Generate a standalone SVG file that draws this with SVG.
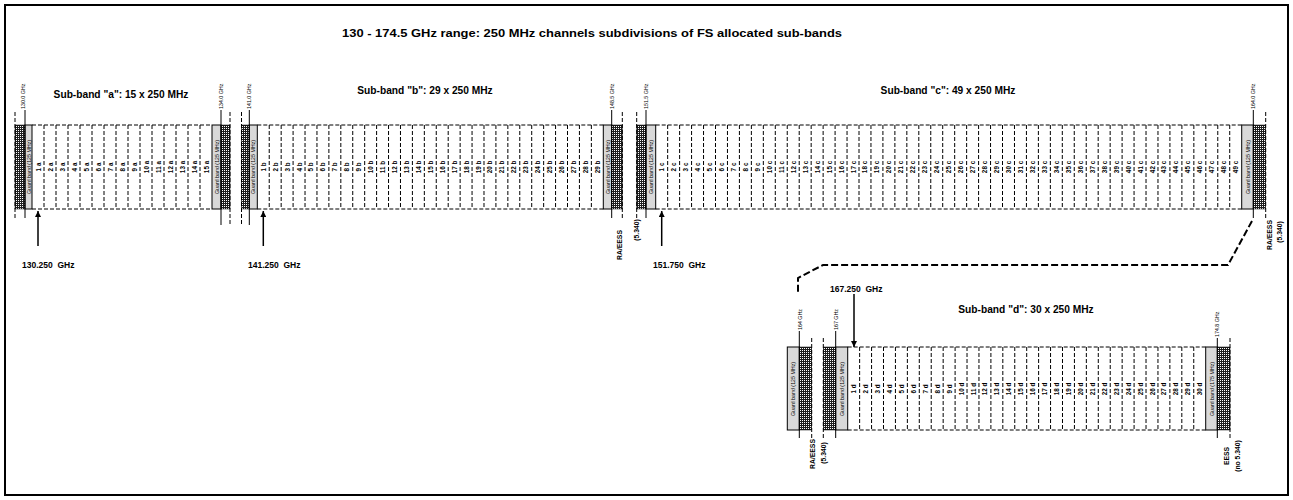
<svg xmlns="http://www.w3.org/2000/svg" width="1293" height="500" viewBox="0 0 1293 500">
<defs>
<pattern id="hp" x="0" y="0" width="2" height="2" patternUnits="userSpaceOnUse"><rect width="2" height="2" fill="#1e1e1e"/><rect x="0" y="0" width="1" height="1" fill="#ffffff"/></pattern>
<marker id="ah" viewBox="0 0 10 10" refX="10" refY="5" markerWidth="4" markerHeight="4" orient="auto"><path d="M0,0L10,5L0,10z" fill="#000"/></marker>
</defs>
<style>
.t{font-family:"Liberation Sans",Arial,sans-serif;fill:#000}
.title{font-size:11px;font-weight:bold;text-anchor:middle}
.sb{font-size:10.2px;font-weight:bold;text-anchor:middle}
.ch{font-size:6.3px;font-weight:bold;text-anchor:middle;dominant-baseline:central}
.gb{font-size:5.3px;text-anchor:middle;dominant-baseline:central}
.fq{font-size:5.3px;dominant-baseline:central}
.nt{font-size:6.8px;font-weight:bold;text-anchor:middle;dominant-baseline:central}
.al{font-size:8.5px;font-weight:bold}
.dash{stroke:#000;stroke-width:1;stroke-dasharray:4 2;fill:none}
.solid{stroke:#000;stroke-width:1;fill:none}
.grey{fill:#d9d9d9;stroke:#000;stroke-width:1}
.hatch{fill:url(#hp);stroke:#000;stroke-width:0.5}
.arr{stroke:#000;stroke-width:1.5;fill:none;marker-end:url(#ah)}
.link{stroke:#000;stroke-width:2;stroke-dasharray:7 3;fill:none}
</style>
<rect x="5" y="5" width="1283" height="490" fill="#fff" stroke="#000" stroke-width="2"/>
<text class="t title" x="592" y="37" textLength="500" lengthAdjust="spacingAndGlyphs">130 - 174.5 GHz range: 250 MHz channels subdivisions of FS allocated sub-bands</text>

<g id="subband-a">
<text class="t sb" x="121" y="98">Sub-band "a": 15 x 250 MHz</text>
<path class="dash" d="M32,125H212M32,209H212"/>
<path class="dash" d="M44,125v84m12,-84v84m12,-84v84m12,-84v84m12,-84v84m12,-84v84m12,-84v84m12,-84v84m12,-84v84m12,-84v84m12,-84v84m12,-84v84m12,-84v84m12,-84v84"/>
<rect class="hatch" x="15" y="125" width="10" height="84"/>
<rect class="grey" x="25" y="125" width="7" height="84"/>
<rect class="grey" x="212" y="125" width="9" height="84"/>
<rect class="hatch" x="221" y="125" width="9" height="84"/>
<path class="dash" d="M15,112V218M230,112V225"/>
<path class="solid" d="M25,110V218M221,110V225"/>
<g transform="rotate(-90)">
<text class="t gb" x="-167" y="28.5">Guard band (125 MHz)</text>
<text class="t gb" x="-167" y="216.5">Guard band (125 MHz)</text>
<text class="t fq" x="-109" y="23">130.0 GHz</text>
<text class="t fq" x="-109" y="220.5">134.0 GHz</text>
<text class="t ch" x="-167" y="38">1 a</text>
<text class="t ch" x="-167" y="50">2 a</text>
<text class="t ch" x="-167" y="62">3 a</text>
<text class="t ch" x="-167" y="74">4 a</text>
<text class="t ch" x="-167" y="86">5 a</text>
<text class="t ch" x="-167" y="98">6 a</text>
<text class="t ch" x="-167" y="110">7 a</text>
<text class="t ch" x="-167" y="122">8 a</text>
<text class="t ch" x="-167" y="134">9 a</text>
<text class="t ch" x="-167" y="146">10 a</text>
<text class="t ch" x="-167" y="158">11 a</text>
<text class="t ch" x="-167" y="170">12 a</text>
<text class="t ch" x="-167" y="182">13 a</text>
<text class="t ch" x="-167" y="194">14 a</text>
<text class="t ch" x="-167" y="206">15 a</text>
</g>
</g>

<g id="subband-b">
<text class="t sb" x="425" y="94">Sub-band "b": 29 x 250 MHz</text>
<path class="dash" d="M257.3,125H603.3M257.3,209H603.3"/>
<path class="dash" d="M269.23,125v84m11.931,-84v84m11.931,-84v84m11.931,-84v84m11.931,-84v84m11.931,-84v84m11.931,-84v84m11.931,-84v84m11.931,-84v84m11.931,-84v84m11.931,-84v84m11.931,-84v84m11.931,-84v84m11.931,-84v84m11.931,-84v84m11.931,-84v84m11.931,-84v84m11.931,-84v84m11.931,-84v84m11.931,-84v84m11.931,-84v84m11.931,-84v84m11.931,-84v84m11.931,-84v84m11.931,-84v84m11.931,-84v84m11.931,-84v84m11.931,-84v84"/>
<rect class="hatch" x="241.5" y="125" width="7.8" height="84"/>
<rect class="grey" x="249.3" y="125" width="8" height="84"/>
<rect class="grey" x="603.3" y="125" width="8.4" height="84"/>
<rect class="hatch" x="611.7" y="125" width="10.6" height="84"/>
<path class="dash" d="M241.5,112V225M622.3,112V220"/>
<path class="solid" d="M249.3,110V225M611.7,110V218"/>
<g transform="rotate(-90)">
<text class="t gb" x="-167" y="253.3">Guard band (125 MHz)</text>
<text class="t gb" x="-167" y="607.5">Guard band (125 MHz)</text>
<text class="t fq" x="-109" y="249">141.0 GHz</text>
<text class="t fq" x="-109" y="611.5">148.5 GHz</text>
<text class="t ch" x="-167" y="263.27">1 b</text>
<text class="t ch" x="-167" y="275.2">2 b</text>
<text class="t ch" x="-167" y="287.13">3 b</text>
<text class="t ch" x="-167" y="299.06">4 b</text>
<text class="t ch" x="-167" y="310.99">5 b</text>
<text class="t ch" x="-167" y="322.92">6 b</text>
<text class="t ch" x="-167" y="334.85">7 b</text>
<text class="t ch" x="-167" y="346.78">8 b</text>
<text class="t ch" x="-167" y="358.71">9 b</text>
<text class="t ch" x="-167" y="370.64">10 b</text>
<text class="t ch" x="-167" y="382.58">11 b</text>
<text class="t ch" x="-167" y="394.51">12 b</text>
<text class="t ch" x="-167" y="406.44">13 b</text>
<text class="t ch" x="-167" y="418.37">14 b</text>
<text class="t ch" x="-167" y="430.3">15 b</text>
<text class="t ch" x="-167" y="442.23">16 b</text>
<text class="t ch" x="-167" y="454.16">17 b</text>
<text class="t ch" x="-167" y="466.09">18 b</text>
<text class="t ch" x="-167" y="478.02">19 b</text>
<text class="t ch" x="-167" y="489.95">20 b</text>
<text class="t ch" x="-167" y="501.89">21 b</text>
<text class="t ch" x="-167" y="513.82">22 b</text>
<text class="t ch" x="-167" y="525.75">23 b</text>
<text class="t ch" x="-167" y="537.68">24 b</text>
<text class="t ch" x="-167" y="549.61">25 b</text>
<text class="t ch" x="-167" y="561.54">26 b</text>
<text class="t ch" x="-167" y="573.47">27 b</text>
<text class="t ch" x="-167" y="585.4">28 b</text>
<text class="t ch" x="-167" y="597.33">29 b</text>
<text class="t nt" x="-245" y="619.5">RA/EESS</text>
<text class="t nt" x="-230" y="636.5">(5.340)</text>
</g>
</g>

<g id="subband-c">
<text class="t sb" x="948" y="94">Sub-band "c": 49 x 250 MHz</text>
<path class="dash" d="M655.7,125H1241.7M655.7,209H1241.7"/>
<path class="dash" d="M667.66,125v84m11.959,-84v84m11.959,-84v84m11.959,-84v84m11.959,-84v84m11.959,-84v84m11.959,-84v84m11.959,-84v84m11.959,-84v84m11.959,-84v84m11.959,-84v84m11.959,-84v84m11.959,-84v84m11.959,-84v84m11.959,-84v84m11.959,-84v84m11.959,-84v84m11.959,-84v84m11.959,-84v84m11.959,-84v84m11.959,-84v84m11.959,-84v84m11.959,-84v84m11.959,-84v84m11.959,-84v84m11.959,-84v84m11.959,-84v84m11.959,-84v84m11.959,-84v84m11.959,-84v84m11.959,-84v84m11.959,-84v84m11.959,-84v84m11.959,-84v84m11.959,-84v84m11.959,-84v84m11.959,-84v84m11.959,-84v84m11.959,-84v84m11.959,-84v84m11.959,-84v84m11.959,-84v84m11.959,-84v84m11.959,-84v84m11.959,-84v84m11.959,-84v84m11.959,-84v84m11.959,-84v84"/>
<rect class="hatch" x="636.7" y="125" width="9.3" height="84"/>
<rect class="grey" x="646" y="125" width="9.7" height="84"/>
<rect class="grey" x="1241.7" y="125" width="11.6" height="84"/>
<rect class="hatch" x="1253.3" y="125" width="12.4" height="84"/>
<path class="dash" d="M636.7,112V218M1265.7,112V218"/>
<path class="solid" d="M646,110V218M1253.3,110V218"/>
<g transform="rotate(-90)">
<text class="t gb" x="-167" y="650.85">Guard band (125 MHz)</text>
<text class="t gb" x="-167" y="1247.5">Guard band (125 MHz)</text>
<text class="t fq" x="-109" y="646">151.5 GHz</text>
<text class="t fq" x="-109" y="1253">164.0 GHz</text>
<text class="t ch" x="-167" y="661.68">1 c</text>
<text class="t ch" x="-167" y="673.64">2 c</text>
<text class="t ch" x="-167" y="685.6">3 c</text>
<text class="t ch" x="-167" y="697.56">4 c</text>
<text class="t ch" x="-167" y="709.52">5 c</text>
<text class="t ch" x="-167" y="721.48">6 c</text>
<text class="t ch" x="-167" y="733.43">7 c</text>
<text class="t ch" x="-167" y="745.39">8 c</text>
<text class="t ch" x="-167" y="757.35">9 c</text>
<text class="t ch" x="-167" y="769.31">10 c</text>
<text class="t ch" x="-167" y="781.27">11 c</text>
<text class="t ch" x="-167" y="793.23">12 c</text>
<text class="t ch" x="-167" y="805.19">13 c</text>
<text class="t ch" x="-167" y="817.15">14 c</text>
<text class="t ch" x="-167" y="829.11">15 c</text>
<text class="t ch" x="-167" y="841.07">16 c</text>
<text class="t ch" x="-167" y="853.03">17 c</text>
<text class="t ch" x="-167" y="864.99">18 c</text>
<text class="t ch" x="-167" y="876.94">19 c</text>
<text class="t ch" x="-167" y="888.9">20 c</text>
<text class="t ch" x="-167" y="900.86">21 c</text>
<text class="t ch" x="-167" y="912.82">22 c</text>
<text class="t ch" x="-167" y="924.78">23 c</text>
<text class="t ch" x="-167" y="936.74">24 c</text>
<text class="t ch" x="-167" y="948.7">25 c</text>
<text class="t ch" x="-167" y="960.66">26 c</text>
<text class="t ch" x="-167" y="972.62">27 c</text>
<text class="t ch" x="-167" y="984.58">28 c</text>
<text class="t ch" x="-167" y="996.54">29 c</text>
<text class="t ch" x="-167" y="1008.5">30 c</text>
<text class="t ch" x="-167" y="1020.46">31 c</text>
<text class="t ch" x="-167" y="1032.41">32 c</text>
<text class="t ch" x="-167" y="1044.37">33 c</text>
<text class="t ch" x="-167" y="1056.33">34 c</text>
<text class="t ch" x="-167" y="1068.29">35 c</text>
<text class="t ch" x="-167" y="1080.25">36 c</text>
<text class="t ch" x="-167" y="1092.21">37 c</text>
<text class="t ch" x="-167" y="1104.17">38 c</text>
<text class="t ch" x="-167" y="1116.13">39 c</text>
<text class="t ch" x="-167" y="1128.09">40 c</text>
<text class="t ch" x="-167" y="1140.05">41 c</text>
<text class="t ch" x="-167" y="1152.01">42 c</text>
<text class="t ch" x="-167" y="1163.97">43 c</text>
<text class="t ch" x="-167" y="1175.92">44 c</text>
<text class="t ch" x="-167" y="1187.88">45 c</text>
<text class="t ch" x="-167" y="1199.84">46 c</text>
<text class="t ch" x="-167" y="1211.8">47 c</text>
<text class="t ch" x="-167" y="1223.76">48 c</text>
<text class="t ch" x="-167" y="1235.72">49 c</text>
<text class="t nt" x="-235" y="1269">RA/EESS</text>
<text class="t nt" x="-232" y="1279.5">(5.340)</text>
</g>
</g>

<g id="subband-d">
<text class="t sb" x="1026" y="313">Sub-band "d": 30 x 250 MHz</text>
<path class="dash" d="M847.7,347H1205.7M847.7,430H1205.7"/>
<path class="dash" d="M859.63,347v83m11.933,-83v83m11.933,-83v83m11.933,-83v83m11.933,-83v83m11.933,-83v83m11.933,-83v83m11.933,-83v83m11.933,-83v83m11.933,-83v83m11.933,-83v83m11.933,-83v83m11.933,-83v83m11.933,-83v83m11.933,-83v83m11.933,-83v83m11.933,-83v83m11.933,-83v83m11.933,-83v83m11.933,-83v83m11.933,-83v83m11.933,-83v83m11.933,-83v83m11.933,-83v83m11.933,-83v83m11.933,-83v83m11.933,-83v83m11.933,-83v83m11.933,-83v83"/>
<rect class="grey" x="787.3" y="347" width="12" height="83"/>
<rect class="hatch" x="799.3" y="347" width="12.4" height="83"/>
<rect class="hatch" x="823.3" y="347" width="12.4" height="83"/>
<rect class="grey" x="835.7" y="347" width="12" height="83"/>
<rect class="grey" x="1205.7" y="347" width="11.6" height="83"/>
<rect class="hatch" x="1217.3" y="347" width="12.7" height="83"/>
<path class="dash" d="M811.7,338V438M823.3,338V438M1230,338V438"/>
<path class="solid" d="M799.3,331V438M835.7,331V438M1217.3,338V438"/>
<g transform="rotate(-90)">
<text class="t gb" x="-389" y="793.3">Guard band (125 MHz)</text>
<text class="t gb" x="-389" y="841.7">Guard band (125 MHz)</text>
<text class="t gb" x="-389" y="1211.5">Guard band (175 MHz)</text>
<text class="t fq" x="-330" y="799.5">164 GHz</text>
<text class="t fq" x="-330" y="835.5">167 GHz</text>
<text class="t fq" x="-337" y="1217">174.8 GHz</text>
<text class="t ch" x="-389" y="853.67">1 d</text>
<text class="t ch" x="-389" y="865.6">2 d</text>
<text class="t ch" x="-389" y="877.53">3 d</text>
<text class="t ch" x="-389" y="889.47">4 d</text>
<text class="t ch" x="-389" y="901.4">5 d</text>
<text class="t ch" x="-389" y="913.33">6 d</text>
<text class="t ch" x="-389" y="925.27">7 d</text>
<text class="t ch" x="-389" y="937.2">8 d</text>
<text class="t ch" x="-389" y="949.13">9 d</text>
<text class="t ch" x="-389" y="961.07">10 d</text>
<text class="t ch" x="-389" y="973">11 d</text>
<text class="t ch" x="-389" y="984.93">12 d</text>
<text class="t ch" x="-389" y="996.87">13 d</text>
<text class="t ch" x="-389" y="1008.8">14 d</text>
<text class="t ch" x="-389" y="1020.73">15 d</text>
<text class="t ch" x="-389" y="1032.67">16 d</text>
<text class="t ch" x="-389" y="1044.6">17 d</text>
<text class="t ch" x="-389" y="1056.53">18 d</text>
<text class="t ch" x="-389" y="1068.47">19 d</text>
<text class="t ch" x="-389" y="1080.4">20 d</text>
<text class="t ch" x="-389" y="1092.33">21 d</text>
<text class="t ch" x="-389" y="1104.27">22 d</text>
<text class="t ch" x="-389" y="1116.2">23 d</text>
<text class="t ch" x="-389" y="1128.13">24 d</text>
<text class="t ch" x="-389" y="1140.07">25 d</text>
<text class="t ch" x="-389" y="1152">26 d</text>
<text class="t ch" x="-389" y="1163.93">27 d</text>
<text class="t ch" x="-389" y="1175.87">28 d</text>
<text class="t ch" x="-389" y="1187.8">29 d</text>
<text class="t ch" x="-389" y="1199.73">30 d</text>
<text class="t nt" x="-454" y="812">RA/EESS</text>
<text class="t nt" x="-453" y="823">(5.340)</text>
<text class="t nt" x="-456" y="1226">EESS</text>
<text class="t nt" x="-456" y="1237.5">(no 5.340)</text>
</g>
</g>

<g id="connectors">
<path class="link" d="M1252,221L1228,265H823L798,278V293"/>
<path class="arr" d="M38,246V211"/>
<path class="arr" d="M263.3,246V211"/>
<path class="arr" d="M661.7,246V211"/>
<path class="arr" d="M854,294V347"/>
<text class="t al" x="22" y="268">130.250&#160; GHz</text>
<text class="t al" x="248" y="268">141.250&#160; GHz</text>
<text class="t al" x="653" y="268">151.750&#160; GHz</text>
<text class="t al" x="830" y="292">167.250&#160; GHz</text>
</g>
</svg>
